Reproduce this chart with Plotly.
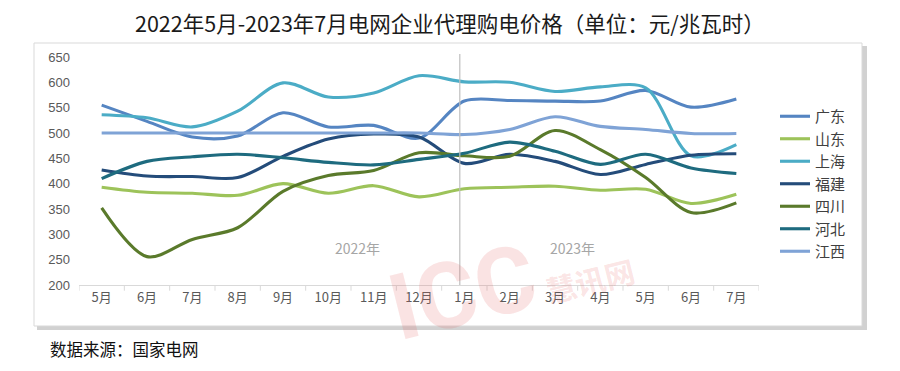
import plotly.graph_objects as go

months = ["5月", "6月", "7月", "8月", "9月", "10月", "11月", "12月",
          "1月", "2月", "3月", "4月", "5月", "6月", "7月"]
xpos = list(range(len(months)))

guangdong = [555, 523, 492, 494, 540, 512, 515, 490, 563, 564, 563, 563, 584, 551, 567]
shandong  = [393, 383, 381, 377, 400, 381, 396, 374, 390, 393, 395, 387, 389, 361, 379]
shanghai  = [536, 530, 512, 543, 599, 571, 579, 613, 601, 600, 582, 591, 589, 455, 477]
fujian    = [427, 415, 414, 412, 454, 488, 498, 492, 440, 458, 444, 418, 438, 456, 459]
sichuan   = [352, 256, 290, 313, 385, 416, 426, 461, 455, 454, 505, 467, 412, 343, 362]
hebei     = [410, 444, 453, 458, 451, 442, 437, 448, 460, 482, 464, 438, 458, 431, 420]
jiangxi   = [500, 500, 500, 500, 500, 500, 500, 500, 497, 507, 532, 513, 507, 499, 499]

series = [
    ("广东", guangdong, "#5585C2"),
    ("山东", shandong, "#9DC35A"),
    ("上海", shanghai, "#4BACC6"),
    ("福建", fujian, "#244C7A"),
    ("四川", sichuan, "#5A7A2B"),
    ("河北", hebei, "#1E6B7F"),
    ("江西", jiangxi, "#7FA3D6"),
]

yticks = [200, 250, 300, 350, 400, 450, 500, 550, 600, 650]

FONT = "Noto Sans CJK SC"
OFF = 8  # page body margin

fig = go.Figure()
for name, vals, col in series:
    fig.add_trace(go.Scatter(
        x=xpos, y=vals, name=name, mode="lines",
        line=dict(color=col, width=3.1, shape="spline", smoothing=0.9),
    ))

W, H = 900 - OFF, 371 - OFF
L, R, T, B = 79 - OFF, 759 - OFF, 57 - OFF, 285 - OFF

def px(xp):
    return (xp - OFF - L) / (R - L)

def py(yp):
    return (B - (yp - OFF)) / (B - T)

shapes = [
    dict(type="rect", xref="paper", yref="paper",
         x0=px(37), x1=px(867), y0=py(330), y1=py(46),
         fillcolor="rgba(0,0,0,0.18)", line=dict(width=0), layer="below"),
    dict(type="rect", xref="paper", yref="paper",
         x0=px(34), x1=px(862), y0=py(326), y1=py(43),
         fillcolor="white", line=dict(color="#D9D9D9", width=1), layer="below"),
    dict(type="line", xref="x", yref="paper",
         x0=7.9, x1=7.9, y0=0, y1=py(54),
         line=dict(color="#BFBFBF", width=1.2)),
]

annotations = [
    dict(text="<b>ICC</b>", xref="paper", yref="paper", x=px(462), y=py(292),
         xanchor="center", yanchor="middle",
         showarrow=False, textangle=-14,
         font=dict(family="Roboto", size=92, color="rgba(230,100,100,0.18)")),
    dict(text="<b>慧讯网</b>", xref="paper", yref="paper", x=px(590), y=py(280),
         xanchor="center", yanchor="middle",
         showarrow=False, textangle=-14,
         font=dict(family=FONT, size=30, color="rgba(230,100,100,0.18)")),
    dict(text="2022年5月-2023年7月电网企业代理购电价格（单位：元/兆瓦时）",
         xref="paper", yref="paper", x=px(450), y=py(22),
         showarrow=False, font=dict(family=FONT, size=21.5, color="#1a1a1a"),
         xanchor="center", yanchor="middle"),
    dict(text="数据来源：国家电网", xref="paper", yref="paper",
         x=px(48), y=py(349), showarrow=False, xanchor="left", yanchor="middle",
         font=dict(family=FONT, size=16.5, color="#111111")),
    dict(text="2022年", xref="paper", yref="paper", x=px(357), y=py(248),
         xanchor="center", yanchor="middle",
         showarrow=False, font=dict(family=FONT, size=14, color="#A6A6A6")),
    dict(text="2023年", xref="paper", yref="paper", x=px(572), y=py(248),
         xanchor="center", yanchor="middle",
         showarrow=False, font=dict(family=FONT, size=14, color="#A6A6A6")),
]

fig.update_layout(
    width=W, height=H,
    margin=dict(l=L, r=W - R, t=T, b=H - B, pad=0),
    paper_bgcolor="white", plot_bgcolor="rgba(0,0,0,0)",
    font=dict(family=FONT, color="#595959"),
    shapes=shapes, annotations=annotations,
    showlegend=True,
    legend=dict(x=px(775), y=py(100), xanchor="left", yanchor="top",
                font=dict(family=FONT, size=15, color="#404040"),
                bgcolor="rgba(0,0,0,0)", itemwidth=30,
                tracegroupgap=0),
    xaxis=dict(
        range=[-0.5, 14.5], tickmode="array", tickvals=xpos, ticktext=months,
        showgrid=False, zeroline=False, showline=True, linecolor="#D9D9D9",
        linewidth=1, ticks="", tickfont=dict(family=FONT, size=13, color="#595959"),
        fixedrange=True,
    ),
    yaxis=dict(
        range=[200, 650], tickmode="array", tickvals=yticks,
        showgrid=False, zeroline=False, showline=False,
        tickfont=dict(family="Liberation Sans", size=13, color="#595959"),
        ticklabelstandoff=8,
    ),
)

for i in range(16):
    fig.add_shape(type="line", xref="x", yref="paper",
                  x0=i - 0.5, x1=i - 0.5, y0=0, y1=-0.025,
                  line=dict(color="#D9D9D9", width=1))

fig.write_html("out.html")
